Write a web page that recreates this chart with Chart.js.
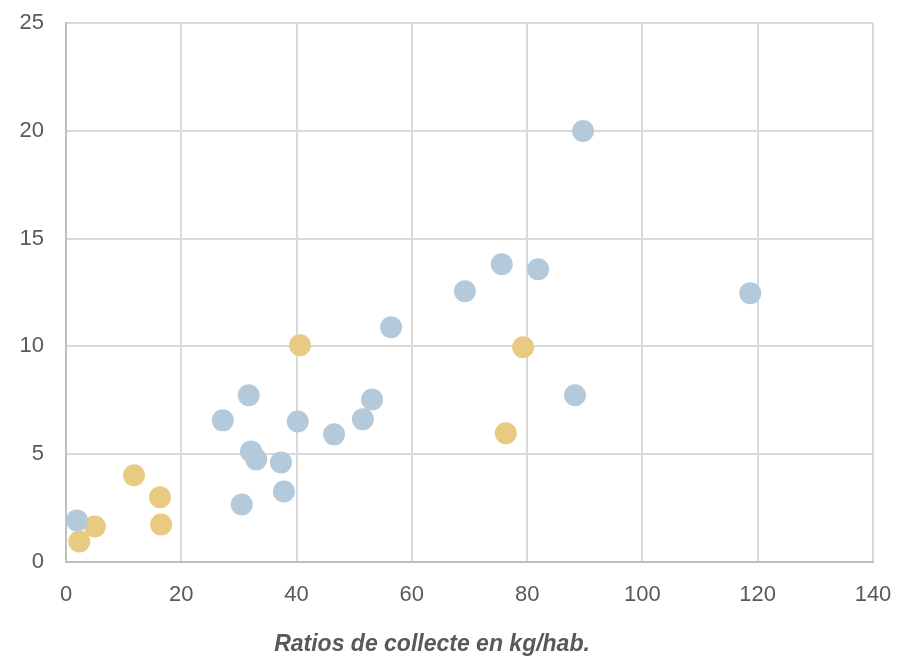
<!DOCTYPE html>
<html><head><meta charset="utf-8">
<script src="https://cdn.jsdelivr.net/npm/chart.js@4/dist/chart.umd.min.js"></script>
<style>html,body{margin:0;padding:0;background:#fff}#wrap{width:897px;height:656px;position:relative}</style>
</head><body><div id="wrap"><canvas id="c" width="897" height="656"></canvas></div>
<script>
const blueX = [1.9, 27.2, 31.7, 32.1, 33.0, 30.5, 37.3, 37.8, 40.2, 46.5, 51.5, 53.1, 56.4, 69.2, 75.6, 81.9, 88.3, 89.7, 118.7];
const blueY = [1.93, 6.57, 7.73, 5.13, 4.76, 2.67, 4.62, 3.27, 6.52, 5.92, 6.62, 7.54, 10.89, 12.56, 13.81, 13.58, 7.73, 19.99, 12.47];
const yellowX = [2.3, 5.0, 11.8, 16.3, 16.5, 40.6, 79.3, 76.3];
const yellowY = [0.95, 1.65, 4.02, 3.0, 1.74, 10.05, 9.96, 5.97];
const xTitle = "Ratios de collecte en kg/hab.";

const toPts = (xs, ys) => xs.map((x, i) => ({x, y: ys[i]}));

const titlePlugin = {
  id: 'xtitle',
  afterDraw(chart) {
    const ctx = chart.ctx;
    ctx.save();
    ctx.font = 'italic bold 23px "Liberation Sans Narrow", "Liberation Sans", sans-serif';
    ctx.fillStyle = '#595959';
    ctx.textAlign = 'center';
    ctx.textBaseline = 'middle';
    ctx.fillText(xTitle, 432, 645);
    ctx.restore();
  }
};

const tickFont = {family: '"Liberation Sans", Arial, sans-serif', size: 22};

new Chart(document.getElementById('c'), {
  type: 'scatter',
  data: {
    datasets: [
      {data: toPts(blueX, blueY), backgroundColor: '#b4c9da', borderWidth: 0, pointRadius: 11, pointHoverRadius: 11},
      {data: toPts(yellowX, yellowY), backgroundColor: '#e9ca82', borderWidth: 0, pointRadius: 11, pointHoverRadius: 11}
    ]
  },
  options: {
    responsive: false,
    animation: false,
    layout: {padding: {top: 23, right: 24, bottom: 0, left: 0}},
    plugins: {legend: {display: false}, tooltip: {enabled: false}},
    scales: {
      x: {
        type: 'linear', min: 0, max: 140,
        ticks: {stepSize: 20, color: '#595959', font: tickFont, padding: 20, maxRotation: 0},
        grid: {color: '#d9d9d9', lineWidth: 2, drawTicks: false},
        border: {color: '#bfbfbf', width: 2},
        afterFit(s) { s.height = 94; s.paddingLeft = 0; s.paddingRight = 0; }
      },
      y: {
        type: 'linear', min: 0, max: 25,
        ticks: {stepSize: 5, color: '#595959', font: tickFont, padding: 22},
        grid: {color: '#d9d9d9', lineWidth: 2, drawTicks: false},
        border: {color: '#bfbfbf', width: 2},
        afterFit(s) { s.width = 66; s.paddingTop = 0; s.paddingBottom = 0; }
      }
    }
  },
  plugins: [titlePlugin]
});
</script></body></html>
